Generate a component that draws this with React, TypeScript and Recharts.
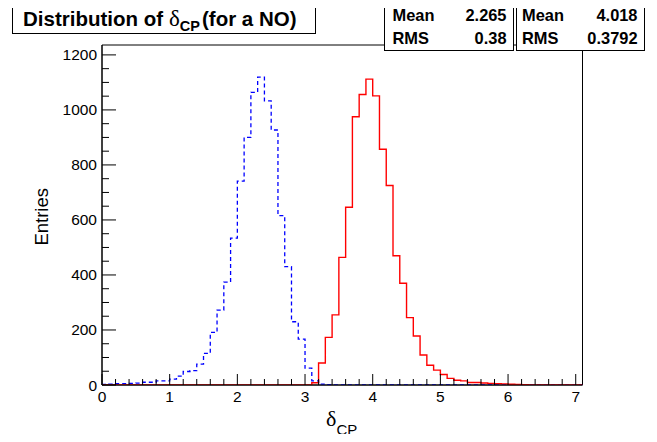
import { ComposedChart, Line, XAxis, YAxis, ReferenceArea } from 'recharts'

const BIN_WIDTH = 0.1
const X_MAX = 7.1
const Y_MAX = 1236

// blue (dashed) and red distributions, 71 bins of 0.1 from 0 to 7.1
const blueCounts = [
  2, 3, 5, 5, 6, 7, 10, 10, 15, 15,
  21, 32, 49, 52, 76, 115, 191, 272, 374, 534,
  741, 900, 1064, 1119, 1033, 927, 616, 430, 230, 167,
  61, 15, 3, 1, 0, 0, 0, 0, 0, 0,
  0, 0, 0, 0, 0, 0, 0, 0, 0, 0,
  0, 0, 0, 0, 0, 0, 0, 0, 0, 0,
  0, 0, 0, 0, 0, 0, 0, 0, 0, 0,
  0,
]
const redCounts = [
  0, 0, 0, 0, 0, 0, 0, 0, 0, 0,
  0, 0, 0, 0, 0, 0, 0, 0, 0, 0,
  0, 0, 0, 0, 0, 0, 0, 0, 0, 0,
  0, 8, 80, 173, 255, 464, 646, 975, 1056, 1112,
  1051, 857, 725, 470, 370, 245, 178, 109, 72, 54,
  38, 24, 17, 15, 9, 9, 7, 6, 5, 4,
  3, 2, 1, 0, 0, 0, 0, 0, 0, 0,
  0,
]

const xTicks = [
  0, 0.2, 0.4, 0.6, 0.8, 1, 1.2, 1.4, 1.6, 1.8, 2, 2.2, 2.4, 2.6, 2.8, 3, 3.2, 3.4,
  3.6, 3.8, 4, 4.2, 4.4, 4.6, 4.8, 5, 5.2, 5.4, 5.6, 5.8, 6, 6.2, 6.4, 6.6, 6.8, 7,
]
const yTicks = [
  0, 50, 100, 150, 200, 250, 300, 350, 400, 450, 500, 550, 600, 650, 700, 750,
  800, 850, 900, 950, 1000, 1050, 1100, 1150, 1200,
]

const stats = [
  { mean: '2.265', rms: '0.38' },
  { mean: '4.018', rms: '0.3792' },
]

const rows = blueCounts.map((b, i) => ({
  x: Number((i * BIN_WIDTH).toFixed(1)),
  blue: b,
  red: redCounts[i],
}))
rows.push({ x: X_MAX, blue: blueCounts[blueCounts.length - 1], red: redCounts[redCounts.length - 1] })

const font = "'Liberation Sans', Arial, Helvetica, sans-serif"
const serif = "'Liberation Serif', 'Times New Roman', serif"

function XTick(props: any) {
  const { x, y, payload } = props
  const v = payload.value
  const major = Math.abs(v - Math.round(v)) < 1e-6
  return (
    <g>
      <line x1={x} y1={y} x2={x} y2={y - (major ? 11 : 6)} stroke="#000" />
      {major && (
        <text x={x} y={y + 17} textAnchor="middle" fontFamily={font} fontSize={15.5} fill="#000">
          {Math.round(v)}
        </text>
      )}
    </g>
  )
}

function YTick(props: any) {
  const { x, y, payload } = props
  const v = payload.value
  const major = v % 200 === 0
  return (
    <g>
      <line x1={x} y1={y} x2={x + (major ? 14 : 7)} y2={y} stroke="#000" />
      {major && (
        <text x={x - 5} y={y + 5.5} textAnchor="end" fontFamily={font} fontSize={15.5} fill="#000">
          {v}
        </text>
      )}
    </g>
  )
}

export default function App() {
  return (
    <div style={{ position: 'relative', width: 657, height: 442, margin: -8, background: '#fff' }}>
      <ComposedChart width={657} height={442} data={rows} margin={{ top: 45, right: 74.5, bottom: 27, left: 42 }}>
        <XAxis
          dataKey="x"
          type="number"
          domain={[0, X_MAX]}
          ticks={xTicks}
          interval={0}
          tickSize={0}
          tickMargin={0}
          tick={<XTick />}
          axisLine={{ stroke: '#000' }}
          height={30}
          allowDataOverflow
        />
        <YAxis
          type="number"
          domain={[0, Y_MAX]}
          ticks={yTicks}
          interval={0}
          tickSize={0}
          tickMargin={0}
          tick={<YTick />}
          axisLine={{ stroke: '#000' }}
          width={60}
          allowDataOverflow
        />
        <ReferenceArea x1={0} x2={X_MAX} y1={0} y2={Y_MAX} fill="none" stroke="#000" strokeWidth={1} />
        <Line
          type="stepAfter"
          dataKey="blue"
          stroke="#0000ff"
          strokeWidth={1.3}
          strokeDasharray="4 3"
          dot={false}
          activeDot={false}
          isAnimationActive={false}
        />
        <Line
          type="stepAfter"
          dataKey="red"
          stroke="#ff0000"
          strokeWidth={1.4}
          dot={false}
          activeDot={false}
          isAnimationActive={false}
        />
      </ComposedChart>

      <svg width={657} height={442} style={{ position: 'absolute', left: 0, top: 0, pointerEvents: 'none' }}>
        {/* title box */}
        <rect x={12.5} y={3.5} width={303} height={30} fill="#fff" stroke="#000" />
        <text y={26} fontFamily={font} fontWeight="bold" fontSize={20.5} fill="#000">
          <tspan x={23}>Distribution of</tspan>
          <tspan x={169} fontFamily={serif} fontWeight="normal" fontSize={23}>δ</tspan>
          <tspan dy={5} fontSize={14.5}>CP</tspan>
          <tspan x={202} dy={-5}>(for a NO)</tspan>
        </text>

        {/* stats boxes */}
        {stats.map((s, i) => {
          const left = i === 0 ? 384.5 : 516.5
          const w = i === 0 ? 129 : 128
          const pad = i === 0 ? 8 : 5.5
          return (
            <g key={i}>
              <rect x={left} y={3.5} width={w} height={47} fill="#fff" stroke="#000" />
              <text x={left + pad} y={21} fontFamily={font} fontWeight="bold" fontSize={16.4}>Mean</text>
              <text x={left + w - 7} y={21} textAnchor="end" fontFamily={font} fontWeight="bold" fontSize={16.4}>{s.mean}</text>
              <text x={left + pad} y={44} fontFamily={font} fontWeight="bold" fontSize={16.4}>RMS</text>
              <text x={left + w - 7} y={44} textAnchor="end" fontFamily={font} fontWeight="bold" fontSize={16.4}>{s.rms}</text>
            </g>
          )
        })}

        {/* axis titles */}
        <text
          x={48}
          y={188}
          textAnchor="end"
          transform="rotate(-90, 48, 188)"
          fontFamily={font}
          fontSize={18.5}
          fill="#000"
        >
          Entries
        </text>
        <text x={326} y={426} fontFamily={serif} fontSize={22} fill="#000">
          δ
          <tspan dy={9} fontFamily={font} fontSize={15}>CP</tspan>
        </text>
      </svg>
    </div>
  )
}
